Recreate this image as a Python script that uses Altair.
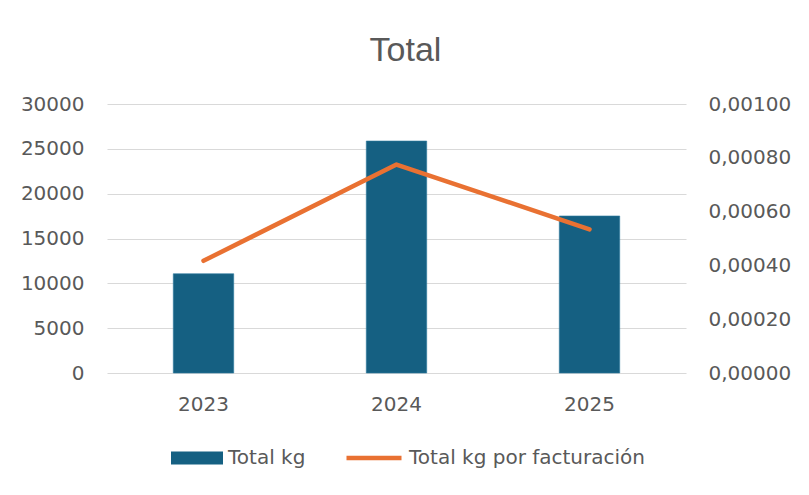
import altair as alt
import pandas as pd

years = ["2023", "2024", "2025"]
total_kg = [11070, 25870, 17510]
kg_por_facturacion = [0.000417, 0.000775, 0.000534]
left_ticks = [0, 5000, 10000, 15000, 20000, 25000, 30000]
right_ticks = [0, 0.0002, 0.0004, 0.0006, 0.0008, 0.001]

df = pd.DataFrame({
    "year": years,
    "kg": total_kg,
    "ratio": kg_por_facturacion,
    "s1": ["Total kg"] * 3,
    "s2": ["Total kg por facturación"] * 3,
})

FONT = "DejaVu Sans"
GREY = "#595959"

x = alt.X("year:N", title=None, sort=years,
          scale=alt.Scale(paddingInner=0.687, paddingOuter=0.3435),
          axis=alt.Axis(labelAngle=0, domain=False, ticks=False, labelPadding=21,
                        labelFont=FONT, labelFontSize=20, labelColor=GREY))

bars = alt.Chart(df).mark_bar(stroke="#2E7AA0", strokeWidth=0.6).encode(
    x=x,
    y=alt.Y("kg:Q", title=None,
            scale=alt.Scale(domain=[0, 30000], nice=False),
            axis=alt.Axis(values=left_ticks, domain=False, ticks=False, grid=True,
                          gridColor="#D9D9D9", gridWidth=1.2, labelPadding=23,
                          labelFont=FONT, labelFontSize=20, labelColor=GREY,
                          format="d")),
    fill=alt.Fill("s1:N", scale=alt.Scale(domain=["Total kg"], range=["#156082"]),
                  legend=alt.Legend(title=None, orient="none", legendX=64, legendY=328,
                                    padding=0, symbolType="M-1,-0.25H1V0.25H-1Z",
                                    symbolSize=2704, symbolStrokeWidth=0, labelOffset=5,
                                    labelLimit=500,
                                    labelFont=FONT, labelFontSize=20, labelColor=GREY)),
)

line = alt.Chart(df).mark_line(strokeWidth=4.5, strokeCap="round", strokeJoin="round").encode(
    x=x,
    y=alt.Y("ratio:Q", title=None,
            scale=alt.Scale(domain=[0, 0.001], nice=False),
            axis=alt.Axis(orient="right", values=right_ticks, domain=False, ticks=False,
                          grid=False, labelPadding=22,
                          labelFont=FONT, labelFontSize=20, labelColor=GREY,
                          labelExpr="replace(format(datum.value, '.5f'), '.', ',')")),
    stroke=alt.Stroke("s2:N", scale=alt.Scale(domain=["Total kg por facturación"], range=["#E97132"]),
                      legend=alt.Legend(title=None, orient="none", legendX=237, legendY=324,
                                        padding=0, symbolType="M-1,0H1", symbolSize=3025,
                                        symbolStrokeWidth=4.5, labelOffset=5, labelLimit=500,
                                        labelFont=FONT, labelFontSize=20, labelColor=GREY)),
)

chart = alt.layer(bars, line).resolve_scale(
    y="independent", fill="independent", stroke="independent"
).properties(
    width=579,
    height=269,
    background="white",
    title=alt.TitleParams("Total", font="Liberation Sans", fontSize=34, fontWeight="normal",
                          color=GREY, anchor="middle", dx=9, dy=35, offset=34, baseline="alphabetic"),
    autosize=alt.AutoSizeParams(type="none"),
    padding={"left": 99, "top": 96, "right": 113, "bottom": 110},
).configure_view(stroke=None)

chart.save("out.html", embed_options={"renderer": "svg", "actions": False})
